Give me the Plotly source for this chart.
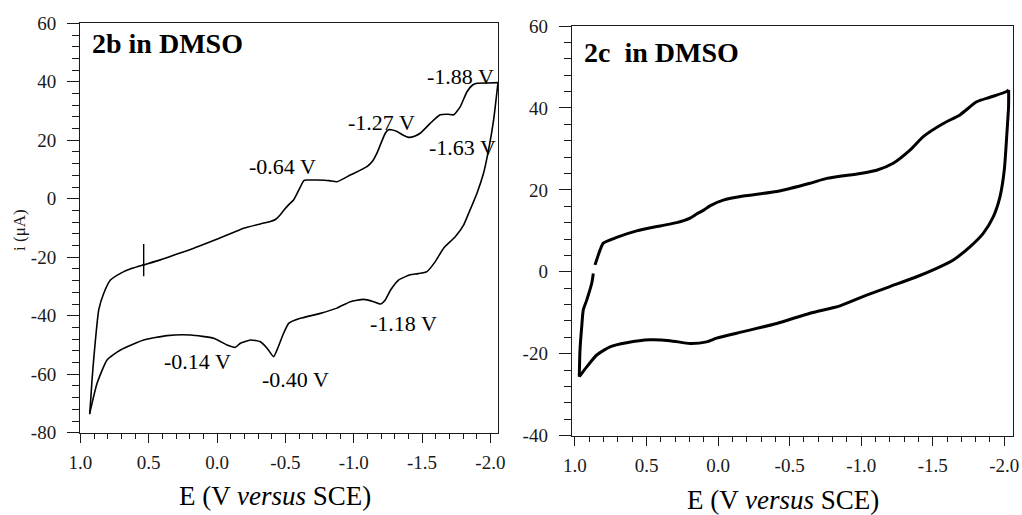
import plotly.graph_objects as go

# ---- Cyclic voltammogram of 2b in DMSO (potential in V vs SCE, current in microamps) ----
# forward (cathodic) sweep, starting at the anodic turning point
e_2b_fwd = [0.932, 0.922, 0.915, 0.902, 0.89, 0.866, 0.829, 0.78, 0.707, 0.622, 0.537,
            0.415, 0.293, 0.17, 0.049, -0.073, -0.195, -0.317, -0.39, -0.43, -0.463, -0.487,
            -0.525, -0.56, -0.61, -0.635, -0.655, -0.73, -0.82, -0.877, -0.975, -1.097, -1.14,
            -1.17, -1.231, -1.255, -1.275, -1.317, -1.36, -1.402, -1.45, -1.487, -1.56, -1.633,
            -1.69, -1.731, -1.78, -1.829, -1.87, -1.902, -1.98, -2.056]
i_2b_fwd = [-73.7, -67.0, -62.0, -54.5, -48.3, -38.0, -32.3, -27.8, -25.5, -23.8, -22.6,
            -20.9, -18.9, -16.9, -14.7, -12.4, -10.1, -8.6, -7.8, -7.0, -5.5, -4.0,
            -2.0, -0.4, 4.1, 6.2, 6.4, 6.4, 6.2, 5.8, 8.1, 11.0, 13.0,
            15.6, 22.4, 23.6, 23.6, 23.0, 21.8, 21.0, 21.5, 22.4, 25.8, 28.7,
            28.9, 28.7, 31.5, 36.6, 38.9, 39.5, 39.6, 39.7]
# reverse (anodic) sweep back to the starting potential
e_2b_rev = [-2.056, -2.024, -1.987, -1.95, -1.902, -1.841, -1.804, -1.743, -1.658, -1.597, -1.536,
            -1.47, -1.414, -1.328, -1.27, -1.231, -1.195, -1.146, -1.073, -0.975, -0.877, -0.756,
            -0.61, -0.524, -0.487, -0.439, -0.414, -0.366, -0.317, -0.244, -0.171, -0.134, -0.073,
            0.024, 0.195, 0.366, 0.537, 0.707, 0.805, 0.878, 0.932]
i_2b_rev = [39.7, 27.0, 16.7, 8.7, 1.9, -5.0, -9.0, -13.0, -16.9, -21.5, -24.9,
            -25.6, -26.0, -27.8, -31.2, -34.6, -36.0, -35.2, -34.4, -35.2, -37.4, -39.2,
            -40.9, -42.6, -46.0, -51.7, -54.0, -51.1, -48.9, -48.3, -49.4, -50.8, -50.0,
            -47.7, -46.6, -46.8, -48.3, -51.7, -55.1, -63.1, -73.4]
# short transient (spike) on the forward sweep near +0.54 V
e_2b_spike = [0.537, 0.537, None, 0.548, 0.527]
i_2b_spike = [-15.5, -26.5, None, -22.8, -22.5]

# ---- Cyclic voltammogram of 2c in DMSO ----
e_2c_fwd = [0.97, 0.965, 0.953, 0.942, 0.918, 0.883, 0.872, None, 0.86, 0.825, 0.802, 0.709,
            0.569, 0.406, 0.289, 0.196, 0.15, 0.103, 0.057, -0.036, -0.176, -0.41, -0.642,
            -0.759, -0.992, -1.108, -1.224, -1.341, -1.434, -1.574, -1.69, -1.807, -1.9, -2.017,
            -2.031]
i_2c_fwd = [-25.6, -19.1, -13.4, -9.3, -6.9, -2.8, -0.4, None, 1.7, 5.3, 7.0, 8.4,
            10.0, 11.2, 12.0, 13.1, 14.1, 15.0, 16.1, 17.5, 18.5, 19.6, 21.6,
            22.8, 24.0, 24.8, 26.5, 29.7, 33.0, 36.2, 38.3, 41.5, 42.6, 44.0,
            44.4]
e_2c_rev = [-2.031, -2.03, -2.017, -2.0, -1.97, -1.923, -1.853, -1.76, -1.644, -1.527, -1.388,
            -1.201, -1.038, -0.852, -0.642, -0.41, -0.176, 0.01, 0.08, 0.196, 0.336, 0.476,
            0.639, 0.755, 0.848, 0.918, 0.97]
i_2c_rev = [44.4, 40.3, 33.0, 24.8, 18.3, 13.4, 9.4, 6.1, 2.9, 0.85, -1.2,
            -3.6, -5.7, -8.3, -10.1, -12.6, -14.6, -16.2, -17.1, -17.5, -16.8, -16.6,
            -17.3, -18.3, -20.3, -23.2, -25.6]

# peak labels on the 2b voltammogram: (text, E, i)
peak_text = ["-0.64 V", "-1.27 V", "-1.88 V", "-1.63 V", "-0.14 V", "-0.40 V", "-1.18 V"]
peak_e = [-0.478, -1.202, -1.78, -1.795, 0.144, -0.573, -1.363]
peak_i = [10.9, 26.2, 41.7, 17.4, -55.8, -61.9, -42.5]

# axis ticks
x_ticks = [1.0, 0.5, 0.0, -0.5, -1.0, -1.5, -2.0]
x_tick_text = ["1.0", "0.5", "0.0", "-0.5", "-1.0", "-1.5", "-2.0"]
y_ticks_2b = [60, 40, 20, 0, -20, -40, -60, -80]
y_ticks_2c = [60, 40, 20, 0, -20, -40]

SERIF = "Times New Roman"
INK = "#1a1a1a"
W, H = 1022, 515
M = 2  # page margin in px; plot-area fractions below are taken inside it


def fx(px):
    return (px - M) / (W - 2 * M)


def fy(py):
    return (H - M - py) / (H - 2 * M)


fig = go.Figure()
for xs, ys in [(e_2b_fwd, i_2b_fwd), (e_2b_rev, i_2b_rev)]:
    fig.add_trace(go.Scatter(x=xs, y=ys, mode="lines", xaxis="x", yaxis="y",
                             line=dict(color="black", width=1.6, shape="spline", smoothing=0.5),
                             showlegend=False, hoverinfo="skip"))
fig.add_trace(go.Scatter(x=e_2b_spike, y=i_2b_spike, mode="lines", xaxis="x", yaxis="y",
                         line=dict(color="black", width=1.4), showlegend=False,
                         hoverinfo="skip"))
for xs, ys in [(e_2c_fwd, i_2c_fwd), (e_2c_rev, i_2c_rev)]:
    fig.add_trace(go.Scatter(x=xs, y=ys, mode="lines", xaxis="x2", yaxis="y2",
                             line=dict(color="black", width=3, shape="spline", smoothing=0.6),
                             connectgaps=False, showlegend=False, hoverinfo="skip"))


def x_axis(dom, rng, anchor):
    return dict(domain=dom, range=rng, anchor=anchor, automargin=False,
                showgrid=False, zeroline=False,
                showline=True, linecolor=INK, linewidth=1, mirror=True,
                ticks="outside", ticklen=9, tickwidth=1, tickcolor=INK,
                tickmode="array", tickvals=x_ticks, ticktext=x_tick_text,
                ticklabelstandoff=3,
                tickfont=dict(family=SERIF, size=19, color=INK),
                minor=dict(ticks="outside", dtick=0.1, ticklen=5))


def y_axis(dom, rng, anchor, vals):
    return dict(domain=dom, range=rng, anchor=anchor, automargin=False,
                showgrid=False, zeroline=False,
                showline=True, linecolor=INK, linewidth=1, mirror=True,
                ticks="outside", ticklen=12, tickwidth=1, tickcolor=INK,
                tickmode="array", tickvals=vals, ticktext=[str(v) for v in vals],
                ticklabelstandoff=7,
                tickfont=dict(family=SERIF, size=19, color=INK),
                minor=dict(ticks="outside", dtick=4, ticklen=7))


annotations = []
for t, e, i in zip(peak_text, peak_e, peak_i):
    annotations.append(dict(text=t, x=e, y=i, xref="x", yref="y", showarrow=False,
                            xanchor="center", yanchor="middle",
                            font=dict(family=SERIF, size=22, color="black")))

# panel labels
annotations.append(dict(text="<b>2b in DMSO</b>", x=fx(90), y=fy(43), xref="paper",
                        yref="paper", xanchor="left", yanchor="middle", showarrow=False,
                        font=dict(family=SERIF, size=28, color="black")))
annotations.append(dict(text="<b>2c  in DMSO</b>", x=fx(582), y=fy(52), xref="paper",
                        yref="paper", xanchor="left", yanchor="middle", showarrow=False,
                        font=dict(family=SERIF, size=28, color="black")))

# axis titles
annotations.append(dict(text="E (V <i>versus</i> SCE)", x=fx(275), y=fy(496), xref="paper",
                        yref="paper", xanchor="center", yanchor="middle", showarrow=False,
                        font=dict(family=SERIF, size=27, color="black")))
annotations.append(dict(text="E (V <i>versus</i> SCE)", x=fx(783), y=fy(500), xref="paper",
                        yref="paper", xanchor="center", yanchor="middle", showarrow=False,
                        font=dict(family=SERIF, size=27, color="black")))
annotations.append(dict(text="i (\u03bcA)", x=fx(19), y=fy(230), xref="paper", yref="paper",
                        xanchor="center", yanchor="middle", showarrow=False, textangle=-90,
                        font=dict(family=SERIF, size=17, color=INK)))

fig.update_layout(
    width=W, height=H, autosize=False,
    margin=dict(l=M, r=M, t=M, b=M, pad=0),
    paper_bgcolor="white", plot_bgcolor="white",
    xaxis=x_axis([fx(80), fx(498)], [1.003, -2.056], "y"),
    yaxis=y_axis([fy(432.7), fy(23.3)], [-80, 60], "x", y_ticks_2b),
    xaxis2=x_axis([fx(571.7), fx(1012.7)], [1.023, -2.059], "y2"),
    yaxis2=y_axis([fy(435.7), fy(26)], [-40, 60], "x2", y_ticks_2c),
    annotations=annotations,
)

fig.write_html("out.html")
